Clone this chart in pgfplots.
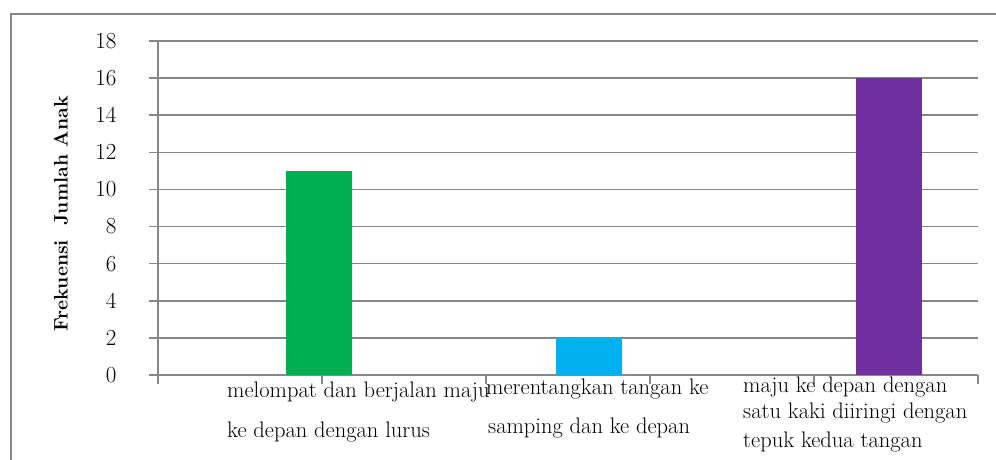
\documentclass[border=0pt]{standalone}
\usepackage{fontspec}
\usepackage{pgfplots}
\pgfplotsset{compat=1.18}
\definecolor{gridgray}{HTML}{878787}
\definecolor{cgreen}{HTML}{00B050}
\definecolor{cblue}{HTML}{00B0F0}
\definecolor{cpurple}{HTML}{7030A0}
\begin{document}
\begin{tikzpicture}
\useasboundingbox (0pt,0pt) rectangle (996pt,-460pt);
\clip (0pt,0pt) rectangle (996pt,-460pt);
\draw[gridgray, line width=2pt] (11pt,-14pt) rectangle (1020pt,-490pt);
\begin{axis}[
  at={(158pt,-375pt)}, anchor=south west,
  scale only axis, width=820pt, height=334pt,
  xmin=0, xmax=5, ymin=0, ymax=18,
  axis lines=left,
  axis line style={gridgray, line width=1.6pt, -},
  xtick={0,1,2,3,4,5}, xticklabels={},
  ytick={0,2,...,18},
  ymajorgrids,
  grid style={gridgray, line width=1.6pt},
  tick style={gridgray, line width=1.6pt},
  tick align=outside, major tick length=9pt,
  yticklabel style={font=\fontsize{23}{27}\selectfont, anchor=east, xshift=-29pt},
  /pgf/number format/assume math mode=true,
  clip=false,
]
\addplot[ybar, bar width=66pt, bar shift=0pt, fill=cgreen, draw=none] coordinates {(0.982,11)};
\addplot[ybar, bar width=66pt, bar shift=0pt, fill=cblue, draw=none] coordinates {(2.628,2)};
\addplot[ybar, bar width=66pt, bar shift=0pt, fill=cpurple, draw=none] coordinates {(4.457,16)};
\end{axis}
\node[rotate=90, font=\bfseries\fontsize{19.5}{22}\selectfont] at (61pt,-214pt) {Frekuensi\ \ Jumlah Anak};
\begin{scope}[every node/.style={anchor=base west, inner sep=0pt, font=\fontsize{22.5}{26}\selectfont}]
\node at (227pt,-397pt) {melompat dan berjalan maju};
\node at (227pt,-437pt) {ke depan dengan lurus};
\node at (486pt,-394pt) {merentangkan tangan ke};
\node at (488pt,-433pt) {samping dan ke depan};
\node at (743pt,-392pt) {maju ke depan dengan};
\node at (743pt,-418pt) {satu kaki diiringi dengan};
\node at (743pt,-447pt) {tepuk kedua tangan};
\end{scope}
\end{tikzpicture}
\end{document}
